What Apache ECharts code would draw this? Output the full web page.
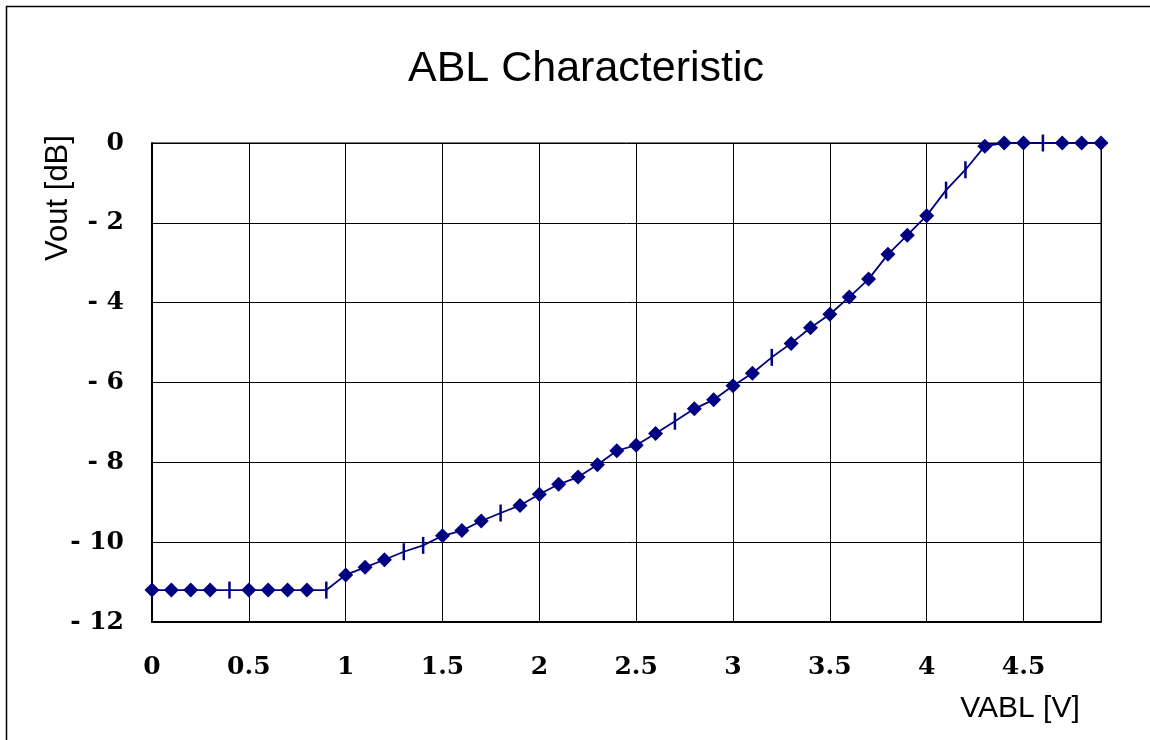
<!DOCTYPE html>
<html>
<head>
<meta charset="utf-8">
<script src="https://cdn.jsdelivr.net/npm/echarts@6/dist/echarts.min.js"></script>
<style>
html,body{margin:0;padding:0;background:#fff;}
#chart{width:1150px;height:740px;}
</style>
</head>
<body>
<div id="chart"></div>
<script>
const chartTitle = 'ABL Characteristic';
const xAxisTitle = 'VABL [V]';
const yAxisTitle = 'Vout [dB]';

const vabl = [0,0.1,0.2,0.3,0.4,0.5,0.6,0.7,0.8,0.9,
              1.0,1.1,1.2,1.3,1.4,1.5,1.6,1.7,1.8,1.9,
              2.0,2.1,2.2,2.3,2.4,2.5,2.6,2.7,2.8,2.9,
              3.0,3.1,3.2,3.3,3.4,3.5,3.6,3.7,3.8,3.9,
              4.0,4.1,4.2,4.3,4.4,4.5,4.6,4.7,4.8,4.9];
const vout = [-11.2,-11.2,-11.2,-11.2,-11.2,-11.2,-11.2,-11.2,-11.2,-11.2,
              -10.82,-10.63,-10.44,-10.24,-10.08,-9.84,-9.71,-9.47,-9.27,-9.08,
              -8.80,-8.55,-8.37,-8.06,-7.71,-7.57,-7.28,-6.97,-6.66,-6.43,
              -6.08,-5.77,-5.37,-5.02,-4.63,-4.29,-3.86,-3.41,-2.79,-2.31,
              -1.82,-1.18,-0.67,-0.08,0,0,0,0,0,0];
// points drawn with a vertical dash marker instead of a diamond
const dashMarkerAt = [0.4,0.9,1.3,1.4,1.8,2.7,3.2,4.1,4.2,4.6];

const xTicks = [0,0.5,1,1.5,2,2.5,3,3.5,4,4.5];
const yTicks = [0,-2,-4,-6,-8,-10,-12];

const seriesData = vabl.map((x, i) => {
  const isDash = dashMarkerAt.some(v => Math.abs(v - x) < 1e-9);
  return isDash
    ? { value: [x, vout[i]], symbol: 'rect', symbolSize: [2.5, 17] }
    : { value: [x, vout[i]] };
});

const chart = echarts.init(document.getElementById('chart'));
const labelFont = { fontFamily: 'DejaVu Serif', fontWeight: 'bold', fontSize: 25, color: '#000' };

chart.setOption({
  animation: false,
  backgroundColor: '#fff',
  title: {
    text: chartTitle,
    left: 403,
    top: 43,
    textStyle: { fontFamily: 'Liberation Sans', fontWeight: 'normal', fontSize: 43, color: '#000' }
  },
  grid: { left: 152, right: 49, top: 143, bottom: 118, show: true, borderColor: '#000', borderWidth: 1, backgroundColor: 'transparent' },
  xAxis: {
    type: 'value',
    min: 0, max: 4.9, interval: 0.5,
    axisLine: { show: true, onZero: false, lineStyle: { color: '#000', width: 2 } },
    axisTick: { show: false },
    splitLine: { show: true, lineStyle: { color: '#000', width: 1 } },
    axisLabel: Object.assign({
      margin: 33,
      showMaxLabel: false,
      formatter: v => (xTicks.some(t => Math.abs(t - v) < 1e-9) ? String(v) : '')
    }, labelFont)
  },
  yAxis: {
    type: 'value',
    min: -12, max: 0, interval: 2,
    axisLine: { show: true, onZero: false, lineStyle: { color: '#000', width: 2 } },
    axisTick: { show: false },
    splitLine: { show: true, lineStyle: { color: '#000', width: 1 } },
    axisLabel: Object.assign({
      margin: 28,
      padding: [4, 0, 0, 0],
      formatter: v => (yTicks.indexOf(v) < 0 ? '' : (v < 0 ? '- ' + Math.abs(v) : String(v)))
    }, labelFont)
  },
  series: [{
    type: 'line',
    data: seriesData,
    symbol: 'diamond',
    symbolSize: 15,
    showAllSymbol: true,
    clip: false,
    lineStyle: { color: '#000080', width: 1.8 },
    itemStyle: { color: '#000080' }
  }],
  graphic: [
    { type: 'rect', silent: true, z: 0,
      shape: { x: 6.5, y: 6.5, width: 1200, height: 800 },
      style: { fill: 'none', stroke: '#000', lineWidth: 1.5 } },
    { type: 'text', silent: true,
      x: 1020, y: 709,
      style: { text: xAxisTitle, fontFamily: 'Liberation Sans', fontSize: 30, fill: '#000', align: 'center', verticalAlign: 'middle' } },
    { type: 'text', silent: true,
      x: 58, y: 198, rotation: Math.PI / 2,
      style: { text: yAxisTitle, fontFamily: 'Liberation Sans', fontSize: 31, fill: '#000', align: 'center', verticalAlign: 'middle' } }
  ]
});
</script>
</body>
</html>
